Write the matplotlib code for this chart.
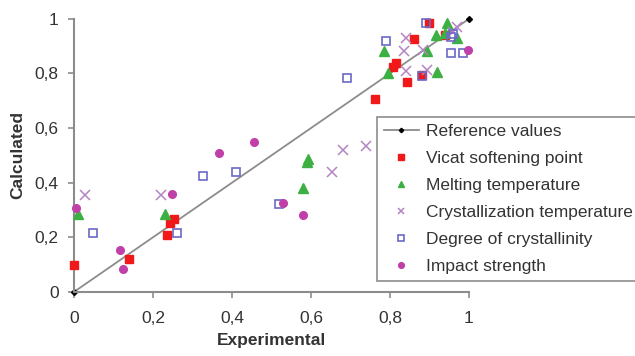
import matplotlib.pyplot as plt
from matplotlib.ticker import MultipleLocator, FuncFormatter

plt.rcParams['font.family'] = ['Liberation Sans', 'DejaVu Sans']

# reference line (experimental == calculated)
ref_x = [0, 1]
ref_y = [0, 1]

vicat_x = [0.0, 0.14, 0.235, 0.243, 0.253, 0.762, 0.808, 0.815, 0.843, 0.86, 0.88, 0.90, 0.94]
vicat_y = [0.10, 0.12, 0.21, 0.253, 0.267, 0.707, 0.824, 0.84, 0.77, 0.927, 0.795, 0.985, 0.94]

melt_x = [0.01, 0.23, 0.58, 0.59, 0.593, 0.795, 0.785, 0.894, 0.919, 0.916, 0.944, 0.939, 0.97]
melt_y = [0.285, 0.285, 0.38, 0.475, 0.485, 0.80, 0.883, 0.883, 0.806, 0.941, 0.985, 0.949, 0.93]

cryst_x = [0.028, 0.22, 0.653, 0.681, 0.739, 0.835, 0.841, 0.884, 0.841, 0.894, 0.96, 0.97]
cryst_y = [0.355, 0.355, 0.44, 0.52, 0.535, 0.883, 0.93, 0.886, 0.81, 0.813, 0.952, 0.97]

degree_x = [0.048, 0.26, 0.327, 0.41, 0.519, 0.691, 0.79, 0.89, 0.88, 0.955, 0.985, 0.955, 0.96]
degree_y = [0.216, 0.216, 0.425, 0.44, 0.322, 0.784, 0.919, 0.985, 0.79, 0.875, 0.875, 0.935, 0.945]

impact_x = [0.005, 0.116, 0.124, 0.248, 0.367, 0.456, 0.529, 0.58, 0.997]
impact_y = [0.308, 0.154, 0.084, 0.359, 0.509, 0.549, 0.326, 0.282, 0.886]

labels = ['Reference values', 'Vicat softening point', 'Melting temperature',
          'Crystallization temperature', 'Degree of crystallinity', 'Impact strength']

fig = plt.figure(figsize=(6.35, 3.56), dpi=100)
ax = fig.add_axes([0.1165, 0.18, 0.622, 0.767])

ax.plot(ref_x, ref_y, color='#8c8c8c', lw=1.3, marker='D', markersize=3,
        markerfacecolor='black', markeredgecolor='black', clip_on=False, zorder=2,
        label=labels[0])
ax.plot(vicat_x, vicat_y, 's', color='#f01818', markersize=5.5, clip_on=False,
        label=labels[1], zorder=3)
ax.plot(melt_x, melt_y, '^', color='#3cb043', markersize=6.5, clip_on=False,
        label=labels[2], zorder=3)
ax.plot(cryst_x, cryst_y, 'x', color='#b584c4', markersize=6.5, mew=1.1, clip_on=False,
        label=labels[3], zorder=3)
ax.plot(degree_x, degree_y, 's', markerfacecolor='none', markeredgecolor='#6a6ac8',
        markersize=6, mew=1.2, linestyle='none', clip_on=False, label=labels[4], zorder=3)
ax.plot(impact_x, impact_y, 'o', color='#c040a8', markersize=5.5, clip_on=False,
        label=labels[5], zorder=3)

ax.set_xlim(0, 1)
ax.set_ylim(0, 1)
ax.xaxis.set_major_locator(MultipleLocator(0.2))
ax.yaxis.set_major_locator(MultipleLocator(0.2))
fmt = FuncFormatter(lambda v, p: ('%g' % round(v, 1)).replace('.', ','))
ax.xaxis.set_major_formatter(fmt)
ax.yaxis.set_major_formatter(fmt)

for s in ['top', 'right']:
    ax.spines[s].set_visible(False)
for s in ['left', 'bottom']:
    ax.spines[s].set_color('#8c8c8c')
    ax.spines[s].set_linewidth(1.5)
ax.tick_params(direction='out', length=4, width=1.2, color='#8c8c8c',
               labelsize=12.5, labelcolor='#333333')
ax.tick_params(axis='x', pad=10)
ax.tick_params(axis='y', pad=7)

ax.set_xlabel('Experimental', fontsize=12.5, fontweight='bold', color='#333333', labelpad=5)
ax.set_ylabel('Calculated', fontsize=12.5, fontweight='bold', color='#333333', labelpad=7)

leg = fig.legend(loc='upper left', bbox_to_anchor=(0.594, 0.671), fontsize=12.5,
                 frameon=True, fancybox=False, edgecolor='#8c8c8c', framealpha=1,
                 handlelength=2.0, handletextpad=0.4, labelspacing=0.68,
                 borderpad=0.4, borderaxespad=0, markerscale=0.75, labelcolor='#333333')
leg.get_frame().set_linewidth(1.2)

fig.savefig('out.png', dpi=100)
